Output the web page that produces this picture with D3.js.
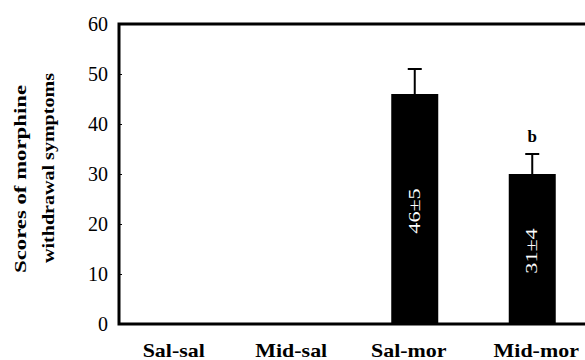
<!DOCTYPE html>
<html>
<head>
<meta charset="utf-8">
<script src="https://cdn.jsdelivr.net/npm/d3@7"></script>
<style>
  body { margin: 0; background: #fff; }
  text { font-family: "Liberation Serif", "DejaVu Serif", serif; }
</style>
</head>
<body>
<div id="chart"></div>
<script>
const groups = ["Sal-sal", "Mid-sal", "Sal-mor", "Mid-mor"]
const scores = [0, 0, 46, 30]
const errors = [0, 0, 5, 4]
const barLabels = ["", "", "46±5", "31±4"]
const marks = ["", "", "", "b"]
const yTicks = [0, 10, 20, 30, 40, 50, 60]

const W = 585, H = 360
const stretch = 1.3 // the source text looks wide

const svg = d3.select("#chart").append("svg")
    .attr("width", W)
    .attr("height", H)

const x = d3.scaleBand()
    .domain(groups)
    .range([121, 591])
    .paddingInner(0.6)
    .paddingOuter(0.3)

const y = d3.scaleLinear()
    .domain([0, 60])
    .range([324, 24])

// frame: left, top, bottom
svg.append("path")
    .attr("d", `M${x.range()[1]},${y(60)}H119V${y(0)}H${x.range()[1]}`)
    .attr("fill", "none")
    .attr("stroke", "#000")
    .attr("stroke-width", 3)

const yAxis = svg.append("g")
    .attr("transform", "translate(119,0)")
    .call(d3.axisLeft(y).tickValues(yTicks).tickSize(-3).tickPadding(11))
yAxis.select(".domain").remove()
yAxis.selectAll("text")
    .attr("font-size", 20)
    .attr("dy", "0.34em")
    .attr("fill", "#000")

svg.append("text")
    .attr("transform", "translate(26,179) rotate(-90)")
    .attr("text-anchor", "middle")
    .attr("font-size", 16)
    .attr("font-weight", "bold")
    .attr("textLength", 188)
    .attr("lengthAdjust", "spacingAndGlyphs")
    .text("Scores of morphine")
svg.append("text")
    .attr("transform", "translate(54,168) rotate(-90)")
    .attr("text-anchor", "middle")
    .attr("font-size", 16)
    .attr("font-weight", "bold")
    .attr("textLength", 190)
    .attr("lengthAdjust", "spacingAndGlyphs")
    .text("withdrawal symptoms")

const bars = svg.append("g").selectAll("g")
    .data(groups.map((g, i) => ({ g, v: scores[i], e: errors[i], lab: barLabels[i], m: marks[i] })))
    .join("g")

bars.filter(d => d.v > 0).append("rect")
    .attr("x", d => x(d.g))
    .attr("y", d => y(d.v))
    .attr("width", x.bandwidth())
    .attr("height", d => y(0) - y(d.v))
    .attr("fill", "#000")

bars.filter(d => d.e > 0).append("path")
    .attr("d", d => {
        const cx = x(d.g) + x.bandwidth() / 2
        return `M${cx},${y(d.v)}V${y(d.v + d.e)}M${cx - 7},${y(d.v + d.e)}H${cx + 7}`
    })
    .attr("stroke", "#000")
    .attr("stroke-width", 2)
    .attr("fill", "none")

bars.filter(d => d.lab).append("text")
    .attr("transform", d => `translate(${x(d.g) + x.bandwidth() / 2 + 5},${(y(0) + y(d.v)) / 2 + 2}) rotate(-90) scale(${stretch},1)`)
    .attr("text-anchor", "middle")
    .attr("font-size", 17)
    .attr("fill", "#fff")
    .text(d => d.lab)

bars.filter(d => d.m).append("text")
    .attr("x", d => x(d.g) + x.bandwidth() / 2)
    .attr("y", d => y(d.v + d.e) - 12)
    .attr("text-anchor", "middle")
    .attr("font-size", 17)
    .attr("font-weight", "bold")
    .text(d => d.m)

svg.append("g").selectAll("text")
    .data(groups)
    .join("text")
    .attr("transform", (d, i) => `translate(${x(d) + x.bandwidth() / 2 - 6 + (i === 3 ? 10 : 0)},357) scale(1.22,1)`)
    .attr("text-anchor", "middle")
    .attr("font-size", 18)
    .attr("font-weight", "bold")
    .text(d => d)
</script>
</body>
</html>
